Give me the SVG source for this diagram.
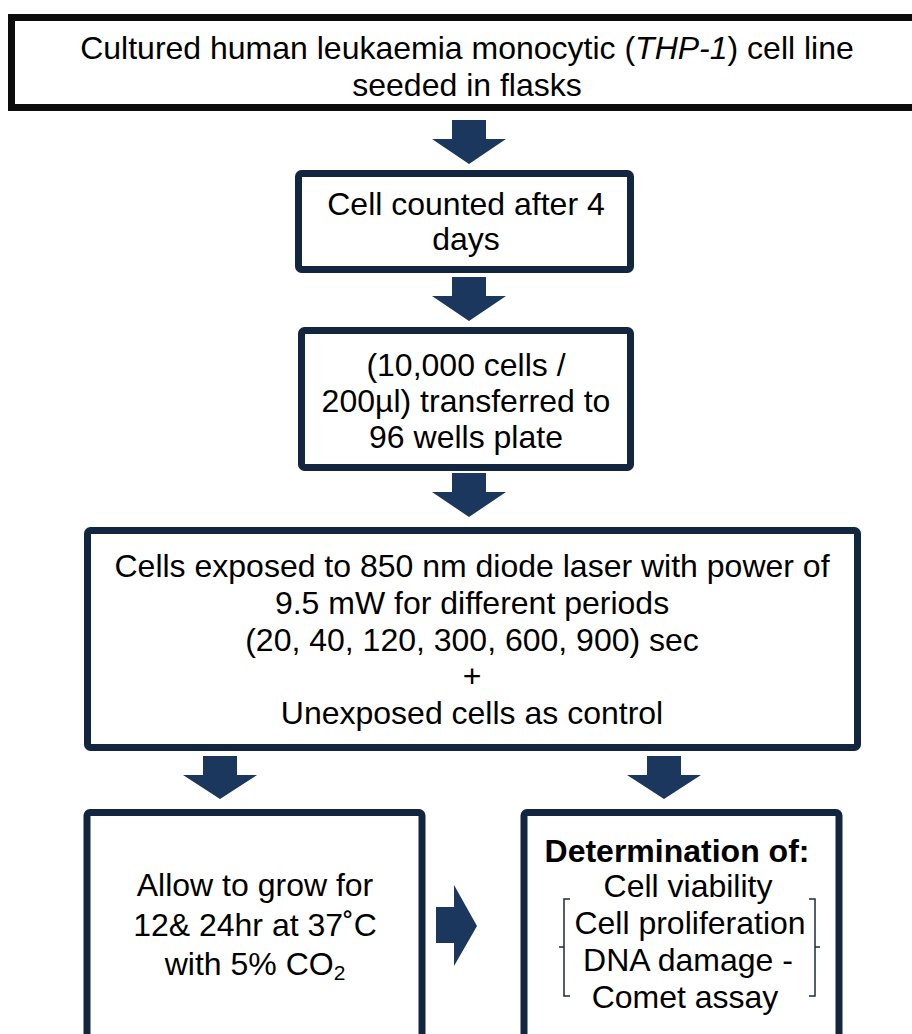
<svg xmlns="http://www.w3.org/2000/svg" width="912" height="1034" viewBox="0 0 912 1034">
<style>
.t{font-family:"Liberation Sans",Arial,sans-serif;font-size:32px;fill:#000;text-anchor:middle}
.b{font-weight:bold}
.box{fill:#fff;stroke:#13263f;stroke-width:7}
.arr{fill:#1b375d}
.br{fill:none;stroke:#1b2b40;stroke-width:1.5}
</style>
<rect width="912" height="1034" fill="#fff"/>
<g id="n1">
<rect x="11.5" y="17.5" width="920" height="90" fill="#fff" stroke="#0d0d0d" stroke-width="7"/>
<text class="t" x="467" y="59">Cultured human leukaemia monocytic (<tspan font-style="italic">THP-1</tspan>) cell line</text>
<text class="t" x="467" y="96">seeded in flasks</text>
</g>
<g id="n2">
<rect class="box" x="298.5" y="173.5" width="332" height="96" rx="3"/>
<text class="t" x="466" y="215">Cell counted after 4</text>
<text class="t" x="466" y="250">days</text>
</g>
<g id="n3">
<rect class="box" x="301.5" y="330.5" width="329" height="137" rx="3"/>
<text class="t" x="466" y="376">(10,000 cells /</text>
<text class="t" x="466" y="412">200µl) transferred to</text>
<text class="t" x="466" y="448">96 wells plate</text>
</g>
<g id="n4">
<rect class="box" x="87.5" y="530.5" width="770" height="217" rx="3"/>
<text class="t" x="472" y="577">Cells exposed to 850 nm diode laser with power of</text>
<text class="t" x="472" y="614">9.5 mW for different periods</text>
<text class="t" x="472" y="651">(20, 40, 120, 300, 600, 900) sec</text>
<text class="t" x="472" y="687">+</text>
<text class="t" x="472" y="724">Unexposed cells as control</text>
</g>
<g id="n5">
<rect class="box" x="87" y="812.5" width="335" height="260" rx="3"/>
<text class="t" x="255" y="896">Allow to grow for</text>
<text class="t" x="255" y="936">12&amp; 24hr at 37˚C</text>
<text class="t" x="255" y="975">with 5% CO<tspan font-size="21" dy="5">2</tspan></text>
</g>
<g id="n6">
<rect class="box" x="524" y="812.5" width="315" height="260" rx="3"/>
<text class="t b" x="677" y="862">Determination of:</text>
<text class="t" x="688" y="897">Cell viability</text>
<text class="t" x="690" y="934">Cell proliferation</text>
<text class="t" x="688" y="971">DNA damage -</text>
<text class="t" x="685" y="1008">Comet assay</text>
<path class="br" d="M570,899H564V996H570M564,947H559"/>
<path class="br" d="M809,899H815V996H809M815,947H820"/>
</g>
<g id="connectors">
<path class="arr" d="M452,120H486V139H506L469,164L432,139H452Z"/>
<path class="arr" d="M452,277H486V296H506L469,321L432,296H452Z"/>
<path class="arr" d="M452,473H486V492H506L469,517L432,492H452Z"/>
<path class="arr" d="M203,756H237V775H257L220,799L183,775H203Z"/>
<path class="arr" d="M647,756H681V775H701L664,799L627,775H647Z"/>
<path class="arr" d="M436,907H454V885L477,926L454,966V943H436Z"/>
</g>
</svg>
